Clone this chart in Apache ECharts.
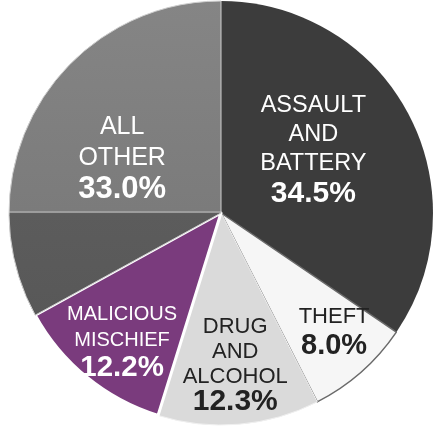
<!DOCTYPE html>
<html><head><meta charset="utf-8">
<script src="https://cdn.jsdelivr.net/npm/echarts@6/dist/echarts.min.js"></script>
<style>html,body{margin:0;padding:0;background:#fff}#c{width:435px;height:432px}</style>
</head><body><div id="c"></div>
<script>
// ---- data ----
const categories = ['ASSAULT AND BATTERY', 'THEFT', 'DRUG AND ALCOHOL', 'MALICIOUS MISCHIEF', 'ALL OTHER'];
const labelLines = [['ASSAULT', 'AND', 'BATTERY'], ['THEFT'], ['DRUG', 'AND', 'ALCOHOL'], ['MALICIOUS', 'MISCHIEF'], ['ALL', 'OTHER']];
const values = [34.5, 8.0, 12.3, 12.2, 33.0];

// ---- styles ----
const allOtherFill = new echarts.graphic.LinearGradient(0, 0, 0, 1, [
  { offset: 0, color: '#858585' },
  { offset: 0.668, color: '#7b7b7b' },
  { offset: 0.671, color: '#bdbdbd' },
  { offset: 0.676, color: '#5c5c5c' },
  { offset: 1, color: '#585858' }
]);
const fills = ['#3c3c3c', '#f6f6f6', '#dadada', '#7a3b7d', allOtherFill];
const borders = [['#3c3c3c', 0], ['#6a6a6a', 1.5], ['#f0f0f0', 1], ['#ffffff', 3], ['#cfcfcf', 1]];
const textColors = ['#ffffff', '#222222', '#222222', '#ffffff', '#ffffff'];
const nameSizes = [23.5, 22, 22, 20, 25];
const pctSizes = [30, 29, 30, 29.5, 31];
const lineHeights = [29, 28, 25, 26, 31];
const offsets = [[-4, -12], [41, 37], [5, 43], [-30, 44], [-5, 1]];
const FONT = '"Liberation Sans", Arial, Helvetica, sans-serif';

const data = categories.map((name, i) => ({
  name: name,
  value: values[i],
  itemStyle: {
    color: fills[i],
    borderColor: borders[i][0],
    borderWidth: borders[i][1]
  },
  label: {
    formatter: labelLines[i].map(s => '{n|' + s + '}').join('\n') + '\n{p|' + values[i].toFixed(1) + '%}',
    rich: {
      n: { fontSize: nameSizes[i], color: textColors[i], fontFamily: FONT, lineHeight: lineHeights[i], align: 'center' },
      p: { fontSize: pctSizes[i], fontWeight: 'bold', color: textColors[i], fontFamily: FONT, lineHeight: lineHeights[i] + 1, align: 'center' }
    }
  }
}));

const chart = echarts.init(document.getElementById('c'), null, { renderer: 'canvas' });
chart.setOption({
  backgroundColor: '#ffffff',
  animation: false,
  series: [{
    type: 'pie',
    center: [221, 213],
    radius: [0, 212],
    startAngle: 90,
    clockwise: true,
    silent: true,
    avoidLabelOverlap: false,
    label: { show: true, position: 'inside', fontFamily: FONT },
    labelLine: { show: false },
    labelLayout: function (p) {
      const o = offsets[p.dataIndex];
      return { dx: o[0], dy: o[1] };
    },
    data: data
  }]
});
</script>
</body></html>
